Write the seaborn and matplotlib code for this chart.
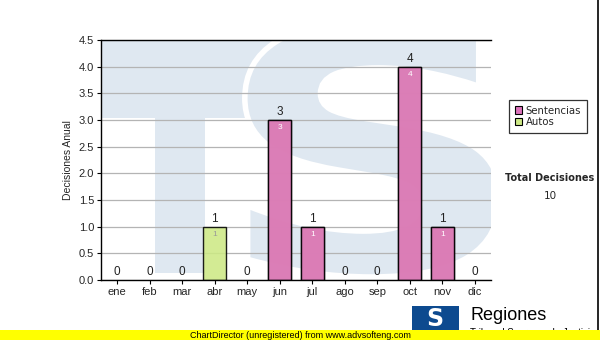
import numpy as np
import pandas as pd
import matplotlib
matplotlib.use("Agg")
import matplotlib.pyplot as plt
import seaborn as sns
from matplotlib.patches import Rectangle, PathPatch, Patch
from matplotlib.textpath import TextPath
from matplotlib.font_manager import FontProperties
from matplotlib.transforms import IdentityTransform, Affine2D

months = ["ene", "feb", "mar", "abr", "may", "jun", "jul", "ago", "sep", "oct", "nov", "dic"]
sentencias = [0, 0, 0, 0, 0, 3, 1, 0, 0, 4, 1, 0]
autos = [0, 0, 0, 1, 0, 0, 0, 0, 0, 0, 0, 0]
yticks = [0.0, 0.5, 1.0, 1.5, 2.0, 2.5, 3.0, 3.5, 4.0, 4.5]
total_decisiones = 10

sns.set_style("white")
plt.rcParams["font.family"] = ["Liberation Sans", "DejaVu Sans"]

W, H = 600, 340
fig = plt.figure(figsize=(6, 3.4), dpi=100)
ax = fig.add_axes([101 / W, 1 - 280 / H, 390 / W, 240 / H])
ax.set_facecolor("white")

totals = [s + a for s, a in zip(sentencias, autos)]
df = pd.DataFrame({"mes": months, "Sentencias": sentencias, "Autos": autos, "Total": totals})

PINK = "#dd72bb"
GREEN = "#cde985"
# stacked: total (autos on top) then sentencias
sns.barplot(data=df, x="mes", y="Total", color=GREEN, alpha=0.88, width=0.7,
            edgecolor="black", linewidth=1.0, saturation=1, ax=ax, zorder=3)
sns.barplot(data=df, x="mes", y="Sentencias", color=PINK, alpha=0.9, width=0.7,
            edgecolor="black", linewidth=1.0, saturation=1, ax=ax, zorder=4)
for p in ax.patches:
    if p.get_height() == 0:
        p.set_linewidth(0)

ax.set_ylim(0, 4.5)
ax.set_xlim(-0.5, 11.5)
ax.set_yticks(yticks)
ax.set_yticklabels([f"{v:.1f}" for v in yticks], fontsize=8)
ax.set_xticks(range(len(months)))
ax.set_xticklabels(months, fontsize=8)
ax.tick_params(axis="both", length=3, width=0.8, color="black", pad=2, direction="out",
               bottom=True, left=True)
ax.yaxis.grid(True, color="#b4b4b4", linewidth=0.9, zorder=1)
ax.set_axisbelow(False)
for g in ax.get_ygridlines():
    g.set_zorder(1)
ax.set_xlabel("")
ax.set_ylabel("Decisiones Anual", fontsize=7.5, labelpad=4)
for side in ["left", "bottom", "top"]:
    ax.spines[side].set_visible(True)
    ax.spines[side].set_color("black")
    ax.spines[side].set_linewidth(1.0)
    ax.spines[side].set_zorder(7)
ax.spines["right"].set_visible(False)

# value labels
for i, (s, a, t) in enumerate(zip(sentencias, autos, totals)):
    ax.text(i, t + 0.03, f"{t}", ha="center", va="bottom", fontsize=8.5, color="#222222", zorder=8)
    if s > 0:
        ax.text(i, s - 0.08, f"{s}", ha="center", va="top", fontsize=6, color="white", zorder=8)
    if a > 0:
        ax.text(i, s + a - 0.08, f"{a}", ha="center", va="top", fontsize=6, color="#999999", zorder=8)

# watermark (TS logo) in pixel coordinates
LB = "#dfe8f1"
def pix_rect(x0, y0, x1, y1, **kw):
    return Rectangle((x0, H - y1), x1 - x0, y1 - y0, transform=IdentityTransform(), **kw)

wm = []
wm.append(pix_rect(101, 40, 300, 118, facecolor=LB, edgecolor="none"))
wm.append(pix_rect(155, 118, 205, 273, facecolor=LB, edgecolor="none"))
tp = TextPath((0, 0), "S", size=1, prop=FontProperties(family="DejaVu Sans", weight="bold"))
v = tp.vertices
xmin, ymin = v.min(axis=0)
xmax, ymax = v.max(axis=0)
bx0, bx1, by0, by1 = 213, 500, 22, 277
tr = Affine2D().translate(-xmin, -ymin).scale((bx1 - bx0) / (xmax - xmin), (by1 - by0) / (ymax - ymin)).translate(bx0, H - by1)
spath = tr.transform_path(tp)
wm.append(PathPatch(spath, facecolor=LB, edgecolor="white", linewidth=4, transform=IdentityTransform()))
for p in wm:
    p.set_zorder(0.5)
    p.set_clip_path(ax.patch)
    ax.add_artist(p)

ax.set_ylim(0, 4.5)
ax.set_xlim(-0.5, 11.5)

# legend
handles = [Patch(facecolor=PINK, edgecolor="black", linewidth=0.8, label="Sentencias"),
           Patch(facecolor=GREEN, edgecolor="black", linewidth=0.8, label="Autos")]
leg = fig.legend(handles=handles, loc="upper left", bbox_to_anchor=(509 / W, 1 - 100 / H),
                 frameon=True, fancybox=False, edgecolor="black",
                 handlelength=0.75, handleheight=0.75, handletextpad=0.35, labelspacing=0.15,
                 borderpad=0.55, borderaxespad=0, prop={"family": "DejaVu Sans", "size": 7.3})
leg.get_frame().set_linewidth(0.9)

fig.text(550 / W, 1 - 178 / H, "Total Decisiones", ha="center", va="center", fontsize=7,
         fontweight="bold", family="DejaVu Sans")
fig.text(550 / W, 1 - 196 / H, f"{total_decisiones}", ha="center", va="center", fontsize=7.5,
         family="DejaVu Sans")

# bottom logo
fig.add_artist(Rectangle((412, H - 331), 47, 25, transform=IdentityTransform(), facecolor="#0d4a8f",
                         edgecolor="none"))
fig.text(435 / W, 1 - 319 / H, "S", ha="center", va="center", fontsize=17, fontweight="bold",
         color="white", family="DejaVu Sans")
fig.text(470 / W, 1 - 315 / H, "Regiones", ha="left", va="center", fontsize=13, color="black")
fig.text(470 / W, 1 - 333 / H, "Tribunal Supremo de Justicia", ha="left", va="center", fontsize=7,
         color="black")

# yellow bar
fig.add_artist(Rectangle((0, 0), W, 10, transform=IdentityTransform(), facecolor="#ffff00",
                         edgecolor="none", zorder=10))
fig.text(0.5, 5 / H, "ChartDirector (unregistered) from www.advsofteng.com", ha="center",
         va="center", fontsize=6.5, color="black", zorder=11)

# right border line
fig.add_artist(plt.Line2D([598 / W, 598 / W], [10 / H, 1], color="black", linewidth=1.2))

fig.savefig("out.png", dpi=100)
